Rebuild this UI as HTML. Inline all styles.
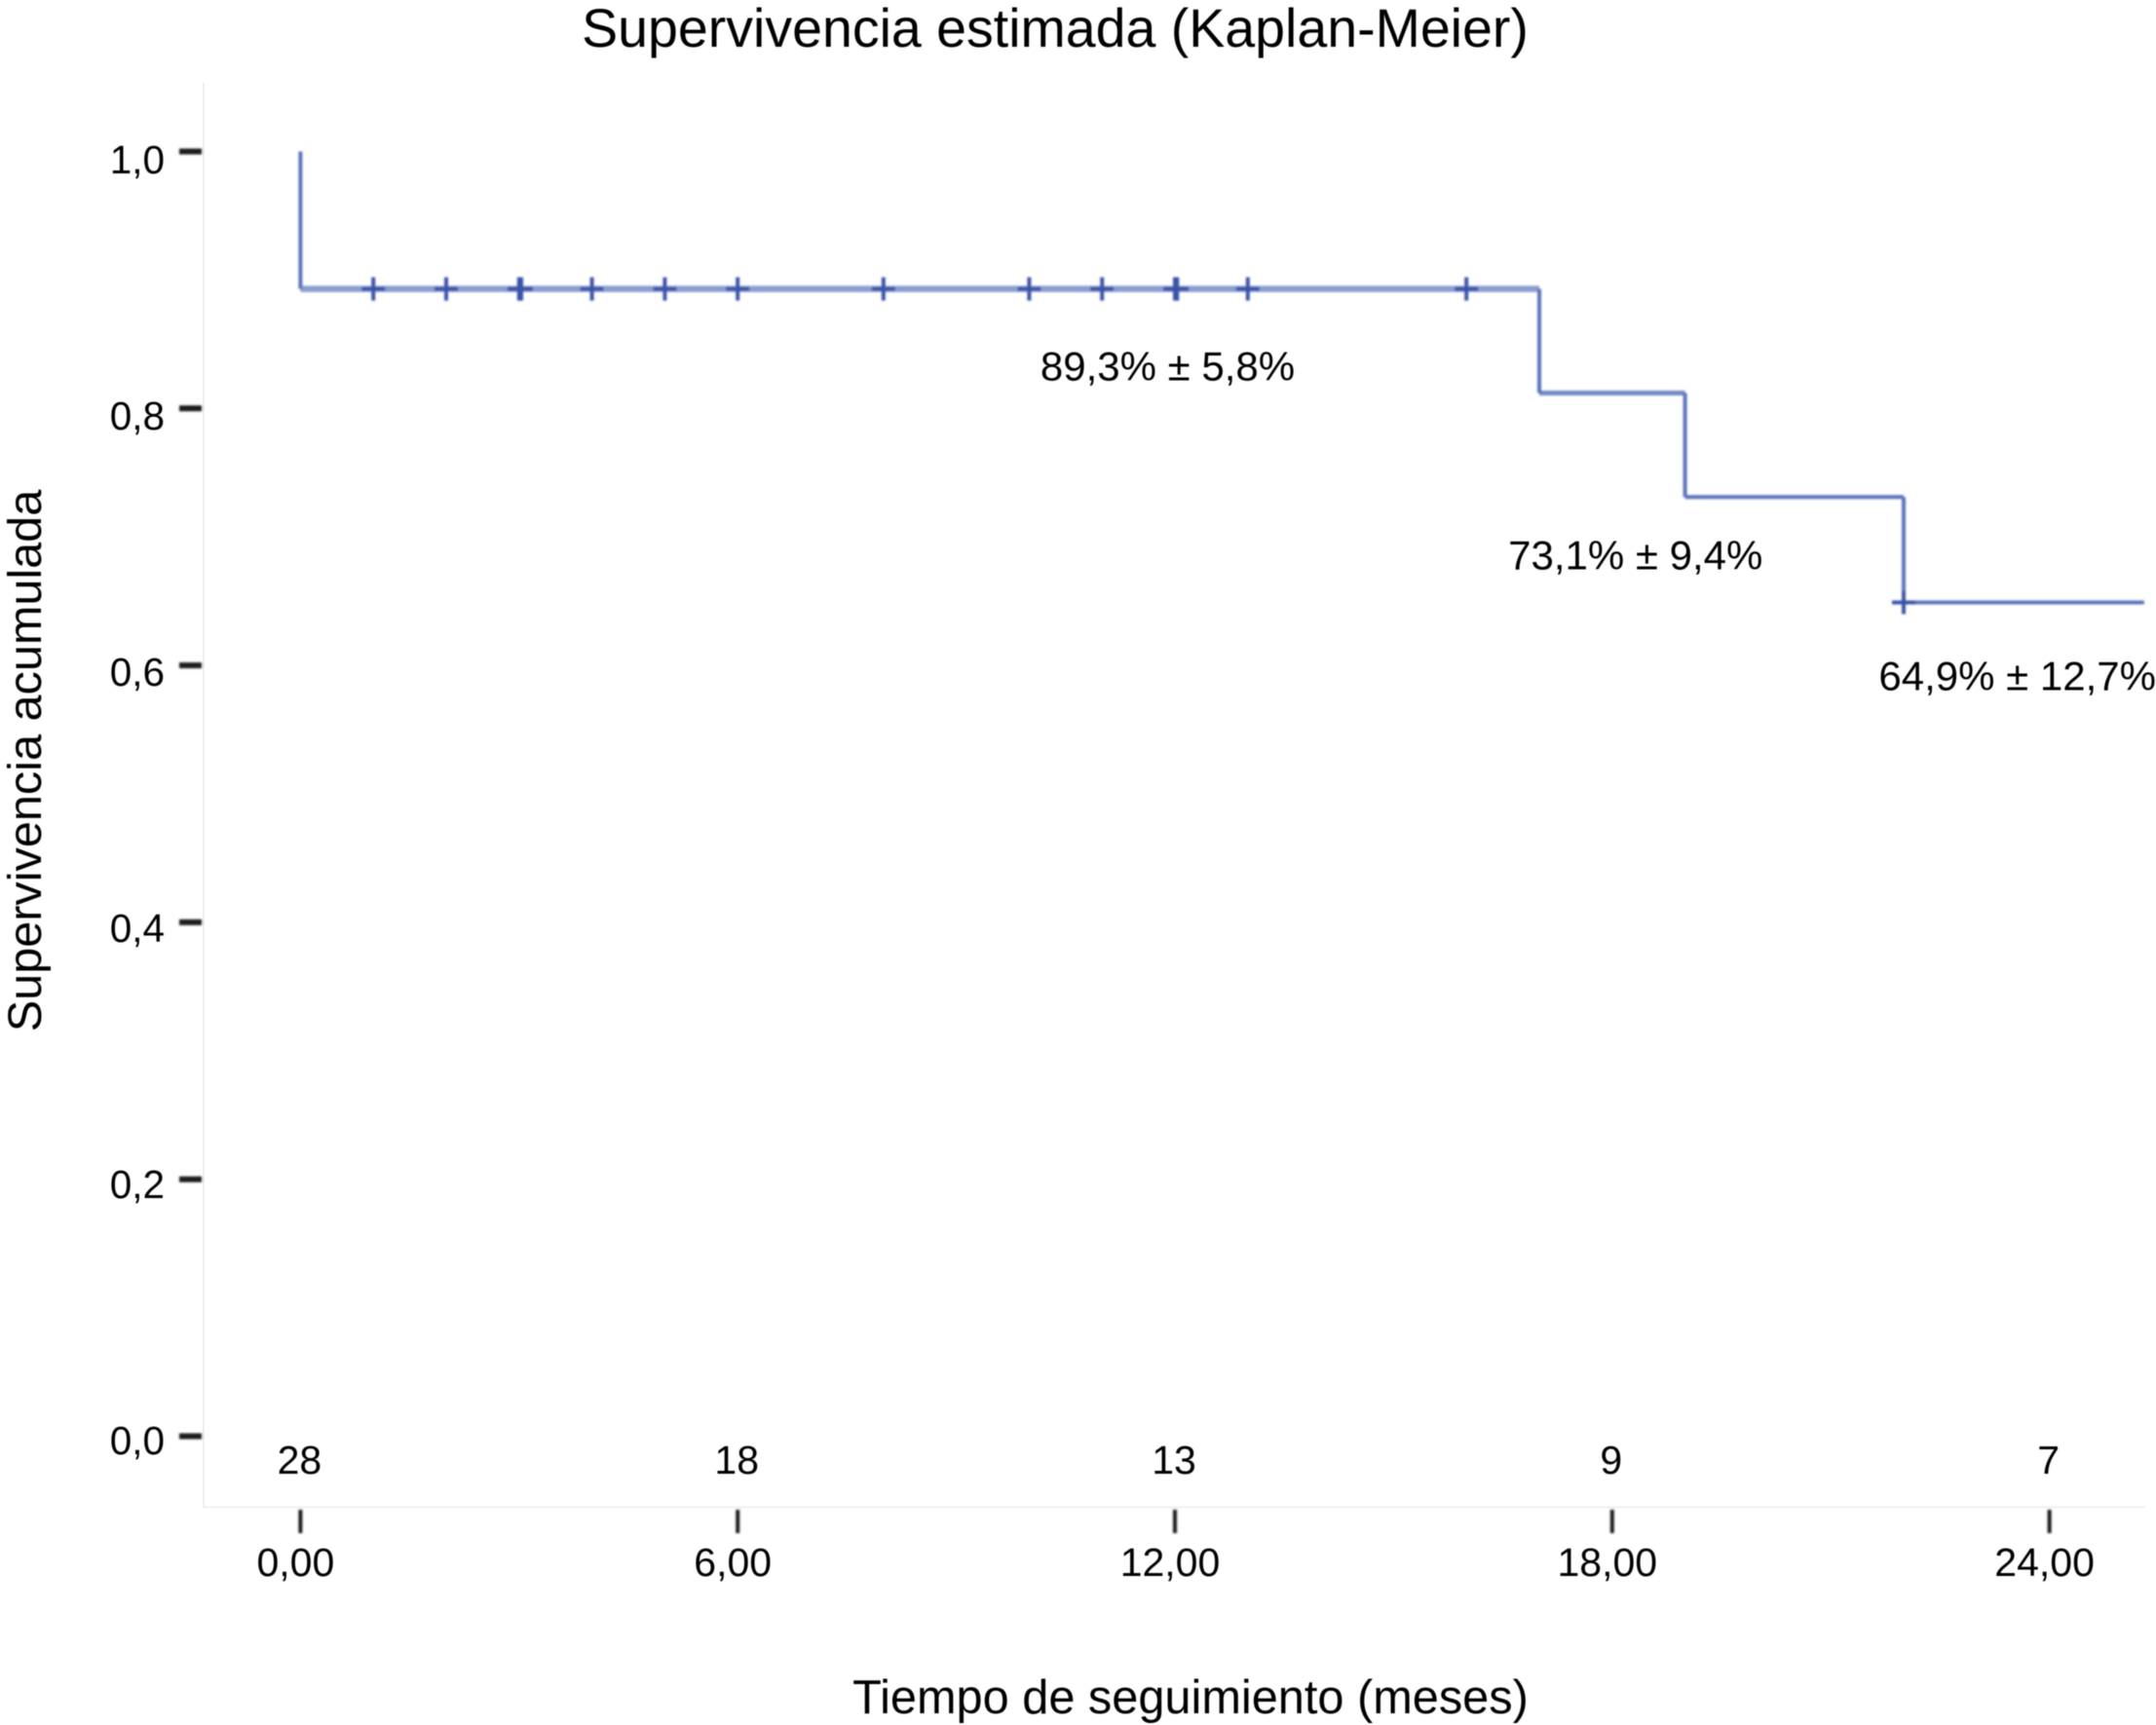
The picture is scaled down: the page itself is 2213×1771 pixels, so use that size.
<!DOCTYPE html>
<html lang="es">
<head>
<meta charset="utf-8">
<title>Supervivencia estimada (Kaplan-Meier)</title>
<style>
html,body{margin:0;padding:0;background:#fff;}
body{width:2213px;height:1771px;overflow:hidden;}
svg{display:block;}
text{font-family:"Liberation Sans",Arial,sans-serif;fill:#000;}
</style>
</head>
<body>
<svg id="chart" xmlns="http://www.w3.org/2000/svg" width="2213" height="1771" viewBox="0 0 2213 1771">
  <defs>
    <filter id="soft" x="0" y="0" width="2213" height="1771" filterUnits="userSpaceOnUse"><feGaussianBlur stdDeviation="1"/></filter>
    <filter id="softText" x="0" y="0" width="2213" height="1771" filterUnits="userSpaceOnUse"><feGaussianBlur stdDeviation="0.4"/></filter>
  </defs>
  <rect x="0" y="0" width="2213" height="1771" fill="#ffffff"/>
  <g id="frame"></g>
  <g id="ticks"></g>
  <g id="series"></g>
  <g id="labels" filter="url(#softText)">
    <text x="1083" y="48" font-size="55.5" text-anchor="middle">Supervivencia estimada (Kaplan-Meier)</text>
    <text x="1222" y="1759" font-size="48.7" text-anchor="middle">Tiempo de seguimiento (meses)</text>
    <text transform="translate(42 781) rotate(-90)" font-size="48.6" text-anchor="middle">Supervivencia acumulada</text>
  </g>
</svg>
<script>
var yTickValues = [0, 0.2, 0.4, 0.6, 0.8, 1.0];
var yTickLabels = ['0,0', '0,2', '0,4', '0,6', '0,8', '1,0'];
var xTickValues = [0, 6, 12, 18, 24];
var xTickLabels = ['0,00', '6,00', '12,00', '18,00', '24,00'];
var atRiskCounts = [28, 18, 13, 9, 7];
var stepTimes = [0, 17, 19, 22, 25.3];
var stepSurvival = [1.0, 0.893, 0.812, 0.731, 0.649];
var censorTimes = [1, 2, 3, 3.03, 4, 5, 6, 8, 10, 11, 12, 12.03, 13, 16, 22];
var censorSurvival = [0.893, 0.893, 0.893, 0.893, 0.893, 0.893, 0.893, 0.893, 0.893, 0.893, 0.893, 0.893, 0.893, 0.893, 0.649];
var annotationTexts = ['89,3% ± 5,8%', '73,1% ± 9,4%', '64,9% ± 12,7%'];
var annotationTimes = [11.9, 18.32, 23.56];
var annotationSurvival = [0.893, 0.731, 0.649];

var SVG_NS = 'http://www.w3.org/2000/svg';
function xScale(t) { return 308.4 + 74.8 * t; }
function yScale(s) { return 1474.5 - 1319 * s; }
function make(tag, parent, attrs) {
  var el = document.createElementNS(SVG_NS, tag);
  for (var k in attrs) { el.setAttribute(k, attrs[k]); }
  parent.appendChild(el);
  return el;
}
var frame = document.getElementById('frame');
var ticks = document.getElementById('ticks');
var series = document.getElementById('series');
var labels = document.getElementById('labels');
ticks.setAttribute('filter', 'url(#soft)');
series.setAttribute('filter', 'url(#soft)');

var yAxisLine = make('line', frame, {x1: 209, y1: 85, x2: 209, y2: 1548, stroke: '#f0f0f0', 'stroke-width': 2});


var xAxisLine = make('line', frame, {x1: 209, y1: 1547.5, x2: 2202, y2: 1547.5, stroke: '#f0f0f0', 'stroke-width': 2});



yTickValues.forEach(function (v, i) {
  var y = yScale(v);
  var tick = make('line', ticks, {x1: 184, y1: y, x2: 207, y2: y, stroke: '#1f1f1f', 'stroke-width': 6});
  
  
  var label = make('text', labels, {x: 169, y: y + 18.5 + 4 * v, 'font-size': 40.5, 'text-anchor': 'end'});
  label.textContent = yTickLabels[i];
  
  
});

xTickValues.forEach(function (v, i) {
  var x = xScale(v);
  var tick = make('line', ticks, {x1: x, y1: 1550, x2: x, y2: 1574, stroke: '#1f1f1f', 'stroke-width': 4});
  
  
  var label = make('text', labels, {x: x - 5, y: 1618, 'font-size': 41, 'text-anchor': 'middle'});
  label.textContent = xTickLabels[i];
  
  
  var risk = make('text', labels, {x: x - 1, y: 1513, 'font-size': 41, 'text-anchor': 'middle'});
  risk.textContent = String(atRiskCounts[i]);
  
  
});

function segmentWidth(i) { return i === 0 ? 6.5 : (i === 1 ? 5 : 4); }
function segmentColor(i) { return i === 0 ? '#8c9dd1' : (i === 1 ? '#7388c6' : '#5a72ba'); }
for (var i = 0; i < stepTimes.length - 1; i++) {
  var hSeg = make('line', series, {x1: xScale(stepTimes[i]), y1: yScale(stepSurvival[i + 1]), x2: xScale(stepTimes[i + 1]), y2: yScale(stepSurvival[i + 1]), stroke: segmentColor(i), 'stroke-width': segmentWidth(i)});
  
  
  var vSeg = make('line', series, {x1: xScale(stepTimes[i]), y1: yScale(stepSurvival[i]), x2: xScale(stepTimes[i]), y2: yScale(stepSurvival[i + 1]), stroke: '#5a72ba', 'stroke-width': 4});
  
  
}

censorTimes.forEach(function (t, i) {
  var cx = xScale(t);
  var cy = yScale(censorSurvival[i]);
  var mark = make('path', series, {d: 'M' + (cx - 12) + ' ' + cy + 'H' + (cx + 12) + 'M' + cx + ' ' + (cy - 12) + 'V' + (cy + 12), stroke: '#3a52a8', 'stroke-width': 4, fill: 'none'});
  
  
});

annotationTexts.forEach(function (txt, i) {
  var a = make('text', labels, {x: xScale(annotationTimes[i]), y: yScale(annotationSurvival[i]) + (i === 0 ? 94 : (i === 1 ? 74 : 90)), 'font-size': 42, 'text-anchor': 'middle'});
  a.textContent = txt;
  
  
});
</script>
</body>
</html>
